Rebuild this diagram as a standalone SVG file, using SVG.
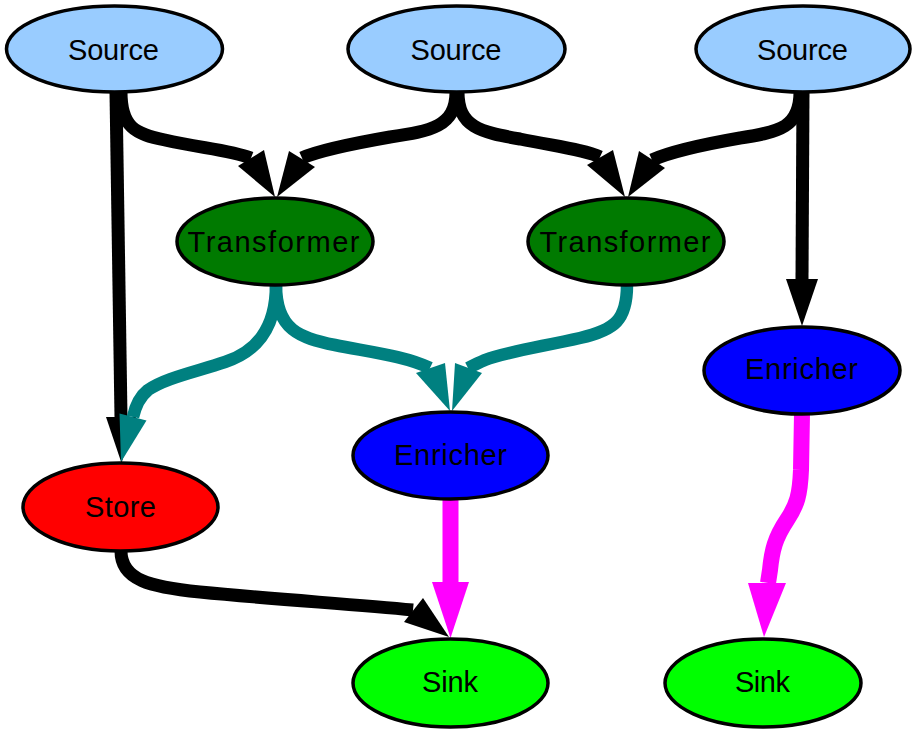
<svg xmlns="http://www.w3.org/2000/svg" width="912" height="730" viewBox="0 0 912 730">
  <style>
    .node ellipse { stroke: #000; stroke-width: 3.5; }
    .node text { font-family: "Liberation Sans", Arial, Helvetica, sans-serif; font-size: 29px; fill: #000; text-anchor: middle; }
    .source ellipse { fill: #99ccff; }
    .transformer ellipse { fill: #007a00; }
    .enricher ellipse { fill: #0000ff; }
    .store ellipse { fill: #ff0000; }
    .sink ellipse { fill: #00ff00; }
    .edge { fill: none; stroke-linecap: butt; }
    .black { stroke: #000; stroke-width: 13; }
    .teal { stroke: #008080; stroke-width: 12.5; }
    .magenta { stroke: #ff00ff; stroke-width: 16; }
    .head-black { fill: #000; }
    .head-teal { fill: #008080; }
    .head-magenta { fill: #ff00ff; }
  </style>
  <rect width="912" height="730" fill="#fff"/>

  <!-- connectors -->
  <g id="edges">
    <!-- Source (left) -> Store -->
    <path class="edge black" d="M116,92 L121,417"/>
    <polygon class="head-black" points="106,417 136,417 121.5,463"/>
    <!-- Source (left) -> Transformer (left) -->
    <path class="edge black" d="M121,92 C121,127 135,134 165,140 C200,148 230,150 251,158"/>
    <polygon class="head-black" points="238,166 264,150 275,197"/>
    <!-- Source (middle) -> Transformer (left) -->
    <path class="edge black" d="M456,92 C456,127 430,131 390,137 C350,144 320,150 302,158"/>
    <polygon class="head-black" points="289,151 315,167 277,197"/>
    <!-- Source (middle) -> Transformer (right) -->
    <path class="edge black" d="M458,92 C458,127 480,132 520,139 C560,147 585,150 600,157"/>
    <polygon class="head-black" points="587,165 613,150 625,197"/>
    <!-- Source (right) -> Transformer (right) -->
    <path class="edge black" d="M800,92 C800,127 780,132 740,138 C700,145 670,152 652,160"/>
    <polygon class="head-black" points="639,151 665,168 628,197"/>
    <!-- Source (right) -> Enricher (right) -->
    <path class="edge black" d="M803,92 L802,279"/>
    <polygon class="head-black" points="786,279 818,279 802,326"/>
    <!-- Transformer (left) -> Store -->
    <path class="edge teal" d="M276,285 C276,330 255,352 225,362 C195,372 165,378 148,390 C138,398 135,408 133,417"/>
    <polygon class="head-teal" points="119.5,413.5 146.5,420.5 121,462"/>
    <!-- Transformer (left) -> Enricher (middle) -->
    <path class="edge teal" d="M276,285 C276,330 300,338 335,345 C370,352 405,356 430,368"/>
    <polygon class="head-teal" points="416,373 445,363 450,411"/>
    <!-- Transformer (right) -> Enricher (middle) -->
    <path class="edge teal" d="M627,285 C627,320 615,330 580,338 C540,347 505,352 485,360 C478,363 472,366 468,368"/>
    <polygon class="head-teal" points="455,363 482,373 452,411"/>
    <!-- Store -> Sink (left) -->
    <path class="edge black" d="M121,551 C121,580 150,587 200,592 C270,599 350,604 413,610"/>
    <polygon class="head-black" points="404,622 423,598 449,637"/>
    <!-- Enricher (middle) -> Sink (left) -->
    <path class="edge magenta" d="M450.5,499 L450.5,582"/>
    <polygon class="head-magenta" points="432,582 469,582 450.5,638"/>
    <!-- Enricher (right) -> Sink (right) -->
    <path class="edge magenta" d="M802,414 L801,470 C800,495 797,505 787,520 C775,538 772,550 770,570 L768,583"/>
    <polygon class="head-magenta" points="748,583 786,583 764,637"/>
  </g>

  <!-- nodes -->
  <g id="source1" class="node source">
    <ellipse cx="114.5" cy="49" rx="108" ry="43"/>
    <text x="113.5" y="60" textLength="91" lengthAdjust="spacing">Source</text>
  </g>
  <g id="source2" class="node source">
    <ellipse cx="456.5" cy="49" rx="108.5" ry="43"/>
    <text x="456" y="60" textLength="91" lengthAdjust="spacing">Source</text>
  </g>
  <g id="source3" class="node source">
    <ellipse cx="803" cy="49" rx="107" ry="43"/>
    <text x="802.5" y="60" textLength="91" lengthAdjust="spacing">Source</text>
  </g>
  <g id="transformer1" class="node transformer">
    <ellipse cx="275" cy="241.5" rx="98" ry="43.5"/>
    <text x="273.5" y="252" textLength="172" lengthAdjust="spacing">Transformer</text>
  </g>
  <g id="transformer2" class="node transformer">
    <ellipse cx="626" cy="241.5" rx="98" ry="43.5"/>
    <text x="625" y="252" textLength="171" lengthAdjust="spacing">Transformer</text>
  </g>
  <g id="enricher1" class="node enricher">
    <ellipse cx="450.5" cy="455.5" rx="97.5" ry="43.5"/>
    <text x="450.5" y="465" textLength="113" lengthAdjust="spacing">Enricher</text>
  </g>
  <g id="enricher2" class="node enricher">
    <ellipse cx="802" cy="370.5" rx="98" ry="43.5"/>
    <text x="801.5" y="379" textLength="113" lengthAdjust="spacing">Enricher</text>
  </g>
  <g id="store" class="node store">
    <ellipse cx="120.5" cy="507" rx="97.5" ry="44"/>
    <text x="120.5" y="517" textLength="71" lengthAdjust="spacing">Store</text>
  </g>
  <g id="sink1" class="node sink">
    <ellipse cx="450.5" cy="683" rx="97.5" ry="44"/>
    <text x="450" y="692" textLength="56" lengthAdjust="spacing">Sink</text>
  </g>
  <g id="sink2" class="node sink">
    <ellipse cx="763" cy="683" rx="98" ry="44"/>
    <text x="762.5" y="692" textLength="55" lengthAdjust="spacing">Sink</text>
  </g>
</svg>
